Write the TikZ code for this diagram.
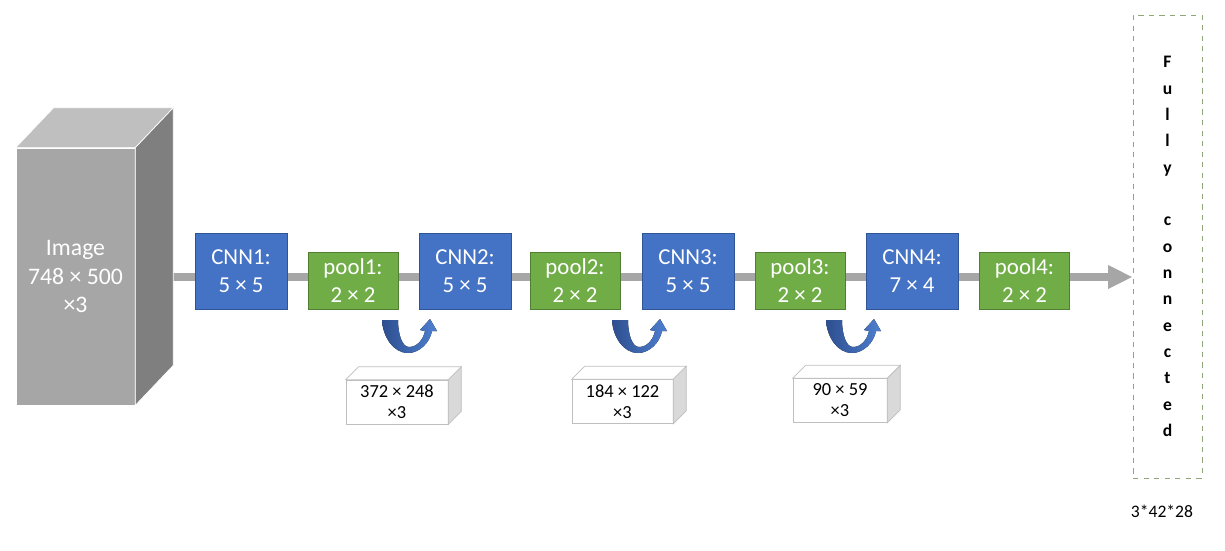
\documentclass[tikz,border=0pt]{standalone}
\usepackage{fontspec}
\setmainfont{Carlito}
\usetikzlibrary{arrows.meta,positioning}

\definecolor{cnnblue}{HTML}{4472C4}
\definecolor{cnnedge}{HTML}{2F5597}
\definecolor{poolgreen}{HTML}{70AD47}
\definecolor{pooledge}{HTML}{507E32}
\definecolor{flowgray}{HTML}{A6A6A6}
\definecolor{cubefront}{HTML}{A6A6A6}
\definecolor{cubetop}{HTML}{BFBFBF}
\definecolor{cubeside}{HTML}{7F7F7F}
\definecolor{fcedge}{HTML}{8FA67A}
\definecolor{loopdark}{HTML}{2E4F8F}
\definecolor{looplight}{HTML}{4D7FD0}

\tikzset{
  cnnbox/.style={draw=cnnedge, fill=cnnblue, text=white, align=center,
    minimum width=1.84cm, minimum height=1.52cm, inner sep=0pt,
    font=\fontsize{13}{16}\selectfont},
  poolbox/.style={draw=pooledge, fill=poolgreen, text=white, align=center,
    minimum width=1.80cm, minimum height=1.14cm, inner sep=0pt,
    font=\fontsize{13}{16}\selectfont},
  sizebox/.style={draw=black!25, fill=white, align=center,
    minimum height=0.88cm, inner sep=0pt,
    font=\fontsize{10.5}{12}\selectfont},
  flowline/.style={flowgray, line width=4pt,
    -{Triangle[length=14pt, width=12.5pt]}},
  loopback/.pic={
    \fill[left color=loopdark, right color=looplight]
      (0,0) .. controls (1,18) and (12,33) .. (26,33)
      .. controls (38,33) and (48,22) .. (50,11)
      -- (55,11) -- (48,-1) -- (38,10) -- (43,11)
      .. controls (41,20) and (35,27) .. (27,27)
      .. controls (20,27) and (16,14) .. (16,0) -- cycle;
  }
}

\begin{document}
\begin{tikzpicture}[x=0.02cm, y=-0.02cm]
\useasboundingbox (0,0) rectangle (1225,551);

% main flow
\coordinate (imgR) at (173,277);
\node[draw=fcedge, dashed, minimum width=1.38cm, minimum height=9.26cm,
  inner sep=0pt, align=center, font=\fontsize{10}{15}\selectfont\bfseries]
  (fc) at (1167.5,246.5)
  {F\\u\\l\\l\\y\\[15pt]c\\o\\n\\n\\e\\c\\t\\e\\d};
\draw[flowline] (imgR) -- (imgR -| fc.west);

% input image
\node[fill=cubefront, draw=white, text=white, minimum width=2.38cm,
  minimum height=5.14cm, inner sep=0pt, align=center,
  font=\fontsize{13.5}{16}\selectfont] (img) at (75.5,276.5)
  {Image\\748 × 500\\×3};
\filldraw[fill=cubetop, draw=white] (img.north west) -- ++(38,-40)
  -- ([shift={(38,-40)}]img.north east) -- (img.north east) -- cycle;
\filldraw[fill=cubeside, draw=white] (img.north east) -- ++(38,-40)
  -- ([shift={(38,-40)}]img.south east) -- (img.south east) -- cycle;

% layers
\node[cnnbox] (cnn1) at (241,271) {CNN1:\\5 × 5};
\node[poolbox] (pool1) at (353,280.5) {pool1:\\2 × 2};
\node[cnnbox] (cnn2) at (465,271) {CNN2:\\5 × 5};
\node[poolbox] (pool2) at (575,280.5) {pool2:\\2 × 2};
\node[cnnbox] (cnn3) at (688,271) {CNN3:\\5 × 5};
\node[poolbox] (pool3) at (800,280.5) {pool3:\\2 × 2};
\node[cnnbox] (cnn4) at (912,271) {CNN4:\\7 × 4};
\node[poolbox] (pool4) at (1024.5,280.5) {pool4:\\2 × 2};

% sizes after pooling
\pic at (382,320) {loopback};
\pic at (612,320) {loopback};
\pic at (826,320) {loopback};

\node[sizebox, minimum width=2.04cm] (size1) at (397,402) {372 × 248\\×3};
\node[sizebox, minimum width=2.02cm] (size2) at (622.5,401.5) {184 × 122\\×3};
\node[sizebox, minimum width=1.88cm] (size3) at (840,400.5) {90 × 59\\×3};
\foreach \s in {size1,size2,size3}{
  \filldraw[fill=white, draw=black!25] (\s.north west) -- ++(13,-13)
    -- ([shift={(13,-13)}]\s.north east) -- (\s.north east) -- cycle;
  \filldraw[fill=black!15, draw=black!25] (\s.north east) -- ++(13,-13)
    -- ([shift={(13,-13)}]\s.south east) -- (\s.south east) -- cycle;
}

\node[font=\fontsize{10}{12}\selectfont] (dims) at (1162,511) {3*42*28};
\end{tikzpicture}
\end{document}
